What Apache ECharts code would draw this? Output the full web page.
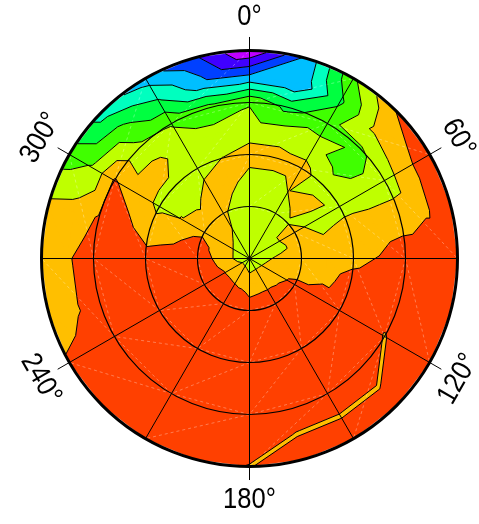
<!DOCTYPE html>
<html><head><meta charset="utf-8">
<script src="https://cdn.jsdelivr.net/npm/echarts@6/dist/echarts.min.js"></script>
<style>html,body{margin:0;padding:0;background:#fff}#c{width:479px;height:524px}</style>
</head><body><div id="c"></div>
<script>
// angular positions of the data grid (degrees, clockwise from north)
const angles = [0,15,30,45,60,75,90,105,120,135,150,165,180,195,210,225,240,255,270,285,300,315,330,345];
// radial positions of the data rings
const radii = [0.125,0.25,0.375,0.5,0.625,0.75,0.875,1];
const centerValue = 7.6;
const ring1 = [7.75,7.75,7.8,7.85,7.85,7.85,8.06,8.22,8.34,8.42,8.43,8.4,8.31,8.6,8.8,8.9,8.85,8.45,8.23,8.21,8.15,8.05,7.9,7.75];
const ring2 = [7.5,7.5,7.6,7.9,8.3,8.15,8.5,8.5,9.33,9.7,9.9,9.9,9.7,10.5,10.5,10.5,10.5,10.5,9.97,9.5,8.7,8.4,8.2,7.6];
const ring3 = [7.6,7.6,8.02,8.4,7.6,8.1,8.6,8.8,9.5,9.5,9.5,9.5,9.5,9.5,9.5,9.5,9.5,9.5,9.5,8.8,8.02,7.8,8.3,8.3];
const ring4 = [8.4,8.4,8.4,7.5,7.7,8.4,8.8,9.3,9.5,9.5,9.5,9.5,9.5,9.5,9.5,9.5,9.5,9.5,9.4,8.5,7.8,7.8,7.7,8.02];
const ring5 = [7.5,7.5,7.3,6.6,7.5,8.5,9.04,9.5,9.5,9.5,9.5,9.5,9.5,9.5,9.5,9.5,9.5,9.5,9.5,9.3,8.5,8.3,7.5,7.3];
const ring6 = [6.9,5.7,6.6,6.85,7.4,8.6,9.5,9.5,8.95,9.5,9.5,9.5,9.5,9.5,9.5,9.5,9.5,9.5,9.5,9.1,9.1,7.3,6.9,6.4];
const ring7 = [3.2,3.02,5.8,8.3,8.8,8.9,9.6,9.5,9.5,8.95,8.95,8.95,9.5,9.5,9.5,9.5,9.3,8.9,8.9,8.4,7.1,6.3,5.1,3.3];
const ring8 = [0.1,3.03,6.8,9.02,9.6,9.5,9.6,9.5,9.5,9.5,9.5,9.5,8.95,9.5,9.5,9.5,9.1,8.5,8.4,8.2,6.5,4.5,3.5,2.1];
const levels = [1,2,3,4,5,6,7,8,9];
const bandColors = ['#bf00ff','#4000ff','#0040ff','#00bfff','#00ffbf','#00ff40','#40ff00','#bfff00','#ffbf00','#ff4000'];
const tickAngles = [0,60,120,180,240,300];
const tickLabels = ['0°','60°','120°','180°','240°','300°'];
// sample stations of the coarse measurement mesh (drawn as faint dashed links)
const meshAngles = [0,30,60,90,120,150,180,210,240,270,300,330];
const meshRadii = [0.25,0.5,0.75,1];

const rings = [ring1,ring2,ring3,ring4,ring5,ring6,ring7,ring8];
const chart = echarts.init(document.getElementById('c'), null, {renderer:'canvas'});

function clip(poly, t, keepAbove){
  const out=[];
  for(let k=0;k<poly.length;k++){
    const a=poly[k], b=poly[(k+1)%poly.length];
    const ain = keepAbove ? a.v>=t : a.v<=t;
    const bin = keepAbove ? b.v>=t : b.v<=t;
    if(ain) out.push(a);
    if(ain!==bin){
      const f=(t-a.v)/(b.v-a.v);
      out.push({x:a.x+f*(b.x-a.x), y:a.y+f*(b.y-a.y), v:t});
    }
  }
  return out;
}
function area(p){let s=0;for(let k=0;k<p.length;k++){const a=p[k],b=p[(k+1)%p.length];s+=a.x*b.y-b.x*a.y;}return s/2;}
const f2 = v => v.toFixed(2);

function contourItem(params, api){
  const c0 = api.coord([0,0]);
  const C = {x:c0[0], y:c0[1], v:centerValue};
  const G = rings.map((vals,j)=>angles.map((a,i)=>{const p=api.coord([radii[j],a]);return {x:p[0],y:p[1],v:vals[i]};}));
  const n=angles.length, tris=[];
  for(let i=0;i<n;i++){const i2=(i+1)%n;tris.push([C,G[0][i],G[0][i2]]);}
  for(let j=0;j<G.length-1;j++)for(let i=0;i<n;i++){
    const i2=(i+1)%n;const A=G[j][i],B=G[j][i2],Cc=G[j+1][i2],D=G[j+1][i];
    tris.push([A,B,Cc]);tris.push([A,Cc,D]);
  }
  const bandPaths = bandColors.map(()=>[]);
  let lines='';
  tris.forEach(t=>{
    let tri = area(t)<0 ? [t[0],t[2],t[1]] : t;
    for(let k=0;k<bandColors.length;k++){
      let p=tri;
      if(k>0) p=clip(p,levels[k-1],true);
      if(p.length>2 && k<levels.length) p=clip(p,levels[k],false);
      if(p.length>2){
        bandPaths[k].push('M'+p.map(q=>f2(q.x)+' '+f2(q.y)).join('L')+'Z');
      }
    }
    levels.forEach(L=>{
      const pts=[];
      for(let e=0;e<3;e++){const a=tri[e],b=tri[(e+1)%3];
        if((a.v-L)*(b.v-L)<0){const f=(L-a.v)/(b.v-a.v);pts.push([a.x+f*(b.x-a.x),a.y+f*(b.y-a.y)]);}}
      if(pts.length===2) lines+='M'+f2(pts[0][0])+' '+f2(pts[0][1])+'L'+f2(pts[1][0])+' '+f2(pts[1][1]);
    });
  });
  const children=[];
  bandPaths.forEach((arr,k)=>{ if(arr.length) children.push({type:'path',shape:{pathData:arr.join('')},style:{fill:bandColors[k],stroke:bandColors[k],lineWidth:0.3}}); });
  // faint mesh links
  let mesh='';
  const M = meshRadii.map(r=>meshAngles.map(a=>api.coord([r,a])));
  const m=meshAngles.length;
  for(let j=0;j<M.length-1;j++)for(let i=0;i<m;i++){
    const a=M[j][i], b=M[j][(i+1)%m], c=M[j+1][(i+1)%m];
    mesh+='M'+f2(a[0])+' '+f2(a[1])+'L'+f2(b[0])+' '+f2(b[1]);
    mesh+='M'+f2(a[0])+' '+f2(a[1])+'L'+f2(c[0])+' '+f2(c[1]);
  }
  children.push({type:'path',shape:{pathData:mesh},style:{fill:null,stroke:'rgba(255,255,255,0.45)',lineWidth:0.7,lineDash:[3,3]}});
  children.push({type:'path',shape:{pathData:lines},style:{fill:null,stroke:'#000',lineWidth:1}});
  return {type:'group',children};
}

function frameItem(params, api){
  const c0 = api.coord([0,0]);
  const children=[];
  tickAngles.forEach((a,k)=>{
    const p1=api.coord([1,a]);
    const dx=p1[0]-c0[0], dy=p1[1]-c0[1];
    children.push({type:'line',shape:{x1:p1[0],y1:p1[1],x2:c0[0]+dx*1.065,y2:c0[1]+dy*1.065},style:{stroke:'#000',lineWidth:1}});
    let rot = a<=90 ? a : (a<270 ? a-180 : a-360);
    children.push({type:'text',x:c0[0]+dx*1.159,y:c0[1]+dy*1.159,rotation:-rot*Math.PI/180,scaleX:0.88,
      style:{text:tickLabels[k],fontSize:29,fontFamily:'Liberation Sans, Arial, Helvetica, sans-serif',fill:'#000',align:'center',verticalAlign:'middle'}});
  });
  return {type:'group',children};
}

chart.setOption({
  animation:false,
  polar:{center:[249.5,258.5],radius:208},
  angleAxis:{type:'value',min:0,max:360,interval:30,startAngle:90,clockwise:true,z:10,
    axisLine:{show:true,lineStyle:{color:'#000',width:3}},
    axisTick:{show:false},axisLabel:{show:false},
    splitLine:{show:true,lineStyle:{color:'#000',width:1}}},
  radiusAxis:{type:'value',min:0,max:1,interval:0.25,z:10,
    axisLine:{show:false},axisTick:{show:false},axisLabel:{show:false},
    splitLine:{show:true,lineStyle:{color:'#000',width:1.2}}},
  series:[
    {type:'custom',coordinateSystem:'polar',z:1,silent:true,data:[[0,0]],renderItem:contourItem},
    {type:'custom',coordinateSystem:'polar',z:20,silent:true,data:[[0,0]],renderItem:frameItem}
  ]
});
</script></body></html>
